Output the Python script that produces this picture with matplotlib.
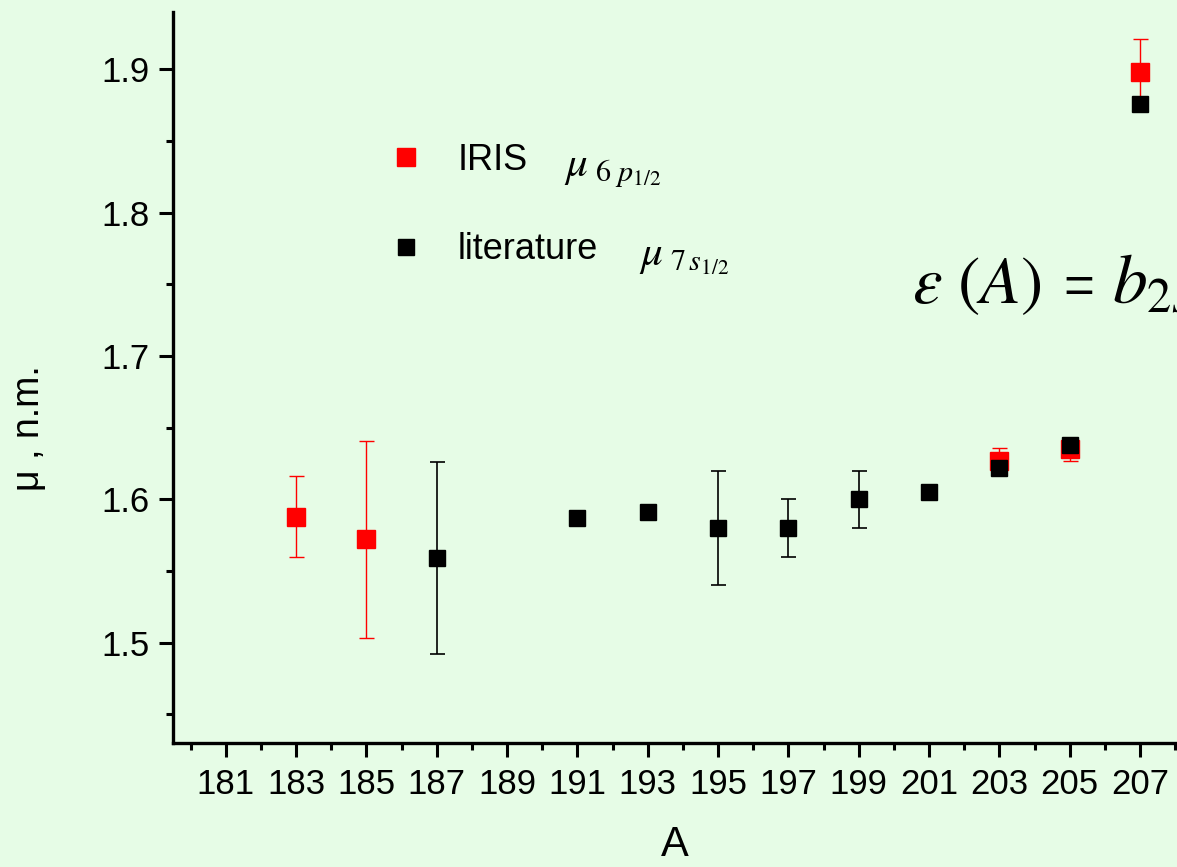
import matplotlib
matplotlib.use("Agg")
import matplotlib.pyplot as plt
from matplotlib.ticker import MultipleLocator
from matplotlib.lines import Line2D

plt.rcParams['font.family'] = ['Liberation Sans', 'DejaVu Sans']
plt.rcParams['mathtext.fontset'] = 'stix'

# IRIS data (red)
iris_A = [183, 185, 203, 205, 207]
iris_mu = [1.588, 1.572, 1.627, 1.635, 1.898]
iris_err = [0.028, 0.069, 0.009, 0.008, 0.023]

# literature data (black)
lit_A = [187, 191, 193, 195, 197, 199, 201, 203, 205, 207]
lit_mu = [1.559, 1.587, 1.591, 1.580, 1.580, 1.600, 1.605, 1.622, 1.638, 1.876]
lit_err = [0.067, 0.0, 0.0, 0.040, 0.020, 0.020, 0.0, 0.0, 0.0, 0.0]

x_ticks = [181, 183, 185, 187, 189, 191, 193, 195, 197, 199, 201, 203, 205, 207]
y_ticks = [1.5, 1.6, 1.7, 1.8, 1.9]

bg = '#e6fce6'
W, H = 1177, 867
fig = plt.figure(figsize=(W / 100, H / 100), dpi=100, facecolor=bg)
ax = fig.add_axes([173 / W, 1 - 743 / H, (1177 - 173) / W, (743 - 12) / H])
ax.set_facecolor(bg)

ax.errorbar(iris_A, iris_mu, yerr=iris_err, fmt='s', color='red', ms=12.5,
            mec='red', ecolor='red', elinewidth=1.0, capsize=5.4, capthick=1.0,
            clip_on=False, zorder=3)
ax.errorbar(lit_A, lit_mu, yerr=lit_err, fmt='s', color='black', ms=11,
            mec='black', ecolor='black', elinewidth=1.2, capsize=5.4, capthick=1.2,
            clip_on=False, zorder=4)

ax.set_xlim(179.5, 208.05)
ax.set_ylim(1.43, 1.94)
ax.set_xticks(x_ticks)
ax.set_xticklabels([str(v) for v in x_ticks])
ax.set_yticks(y_ticks)
ax.set_yticklabels([f'{v:.1f}' for v in y_ticks])
ax.xaxis.set_minor_locator(MultipleLocator(1))
ax.yaxis.set_minor_locator(MultipleLocator(0.05))

for s in ['top', 'right']:
    ax.spines[s].set_visible(False)
for s in ['left', 'bottom']:
    ax.spines[s].set_linewidth(2.4)

ax.tick_params(which='major', direction='out', length=10, width=2.2,
               labelsize=25, pad=7)
ax.tick_params(which='minor', direction='out', length=5, width=2.2)
ax.tick_params(axis='x', which='major', pad=8)

ax.set_xlabel('A', fontsize=30, labelpad=17)
ax.set_ylabel('μ , n.m.', fontsize=27)
ax.yaxis.set_label_coords(-0.125, (743 - 428) / (743 - 12))

handles = [Line2D([], [], ls='none', marker='s', color='red', ms=12.5),
           Line2D([], [], ls='none', marker='s', color='black', ms=11)]
leg = ax.legend(handles, ['IRIS', 'literature'], loc='upper left',
                bbox_to_anchor=(393 / W, 1 - 143 / H), bbox_transform=fig.transFigure,
                frameon=False, fontsize=26, handlelength=0.7, handletextpad=1.1,
                labelspacing=1.5, borderpad=0, borderaxespad=0)

fig.text(564 / W, 1 - 176 / H, r'$\mu_{\ 6\,\,p_{1/2}}$', fontsize=31, va='baseline')
fig.text(639 / W, 1 - 265 / H, r'$\mu_{\ 7\,s_{1/2}}$', fontsize=31, va='baseline')

fig.text(912 / W, 1 - 303 / H, r'$\varepsilon\ (A)$', fontsize=48, va='baseline')
fig.text(1063 / W, 1 - 303 / H, '=', fontsize=38, va='baseline')
fig.text(1112 / W, 1 - 303 / H, r'$b_{2s}$', fontsize=50, va='baseline')

fig.savefig('out.png', dpi=100, facecolor=bg)
